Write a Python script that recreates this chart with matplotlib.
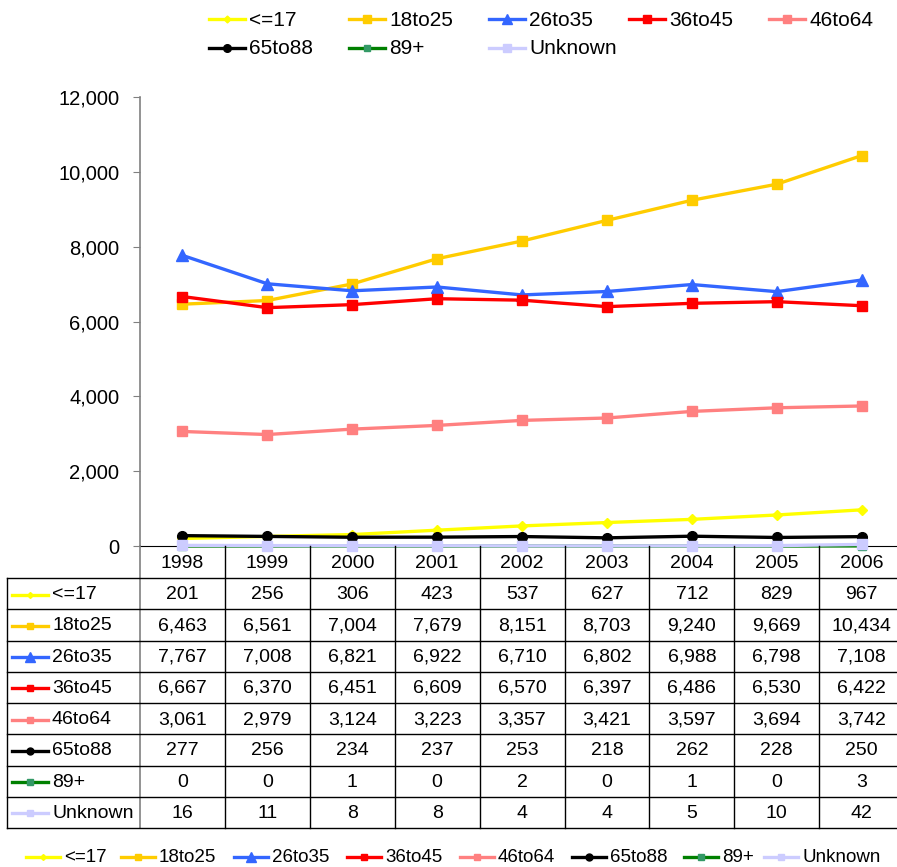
import matplotlib
matplotlib.use('Agg')
import matplotlib.pyplot as plt
from matplotlib.lines import Line2D
from matplotlib.transforms import blended_transform_factory

plt.rcParams['font.family'] = ['Liberation Sans', 'DejaVu Sans']

years = ['1998', '1999', '2000', '2001', '2002', '2003', '2004', '2005', '2006']
labels = ['<=17', '18to25', '26to35', '36to45', '46to64', '65to88', '89+', 'Unknown']
le17 = [201, 256, 306, 423, 537, 627, 712, 829, 967]
a18to25 = [6463, 6561, 7004, 7679, 8151, 8703, 9240, 9669, 10434]
a26to35 = [7767, 7008, 6821, 6922, 6710, 6802, 6988, 6798, 7108]
a36to45 = [6667, 6370, 6451, 6609, 6570, 6397, 6486, 6530, 6422]
a46to64 = [3061, 2979, 3124, 3223, 3357, 3421, 3597, 3694, 3742]
a65to88 = [277, 256, 234, 237, 253, 218, 262, 228, 250]
a89plus = [0, 0, 1, 0, 2, 0, 1, 0, 3]
unknown = [16, 11, 8, 8, 4, 4, 5, 10, 42]
series = [le17, a18to25, a26to35, a36to45, a46to64, a65to88, a89plus, unknown]

colors = ['#FFFF00', '#FFCC00', '#3366FF', '#FF0000', '#FF8080', '#000000', '#339966', '#CCCCFF']
line_colors = ['#FFFF00', '#FFCC00', '#3366FF', '#FF0000', '#FF8080', '#000000', '#008000', '#CCCCFF']
markers = ['D', 's', '^', 's', 's', 'o', 's', 's']
msizes = [5, 7, 9, 7, 7, 7, 6, 7]

W, H = 897, 867
fig = plt.figure(figsize=(W / 100, H / 100), dpi=100)

# pixel layout
x0, col_w, y_top, y_zero = 140, 84.9, 97, 546
ax = fig.add_axes([x0 / W, (H - y_zero) / H, 9 * col_w / W, (y_zero - y_top) / H])
over = fig.add_axes([0, 0, 1, 1], facecolor='none')
over.set_xlim(0, W)
over.set_ylim(H, 0)
over.axis('off')

xs = list(range(len(years)))
for vals, lc, mc, mk, ms in zip(series, line_colors, colors, markers, msizes):
    ax.plot(xs, vals, color=lc, lw=2.4, marker=mk, ms=ms, mfc=mc, mec=mc, clip_on=False, zorder=3)

ax.set_xlim(-0.5, 8.5)
ax.set_ylim(0, 12000)
ax.set_yticks(range(0, 12001, 2000))
ax.set_yticklabels([f'{v:,}' for v in range(0, 12001, 2000)], fontsize=14.5)
ax.set_xticks([])
ax.tick_params(axis='y', direction='out', length=5, color='#808080', pad=10)
for s in ['top', 'right']:
    ax.spines[s].set_visible(False)
ax.spines['left'].set_color('#808080')
ax.spines['bottom'].set_color('#000000')
ax.spines['left'].set_linewidth(1.2)

# data table under the chart
tr = blended_transform_factory(ax.transData, over.transData)
row_top, row_h = 578, 31.25
y_bot = row_top + 8 * row_h
over.plot([x0, x0], [y_zero, y_bot], color='#808080', lw=1.2)
for i in range(1, 10):
    over.plot([i - 0.5, i - 0.5], [y_zero, y_bot], color='black', lw=1, transform=tr)
for k in range(9):
    y = row_top + k * row_h
    over.plot([7, W], [y, y], color='black', lw=1)
over.plot([7, 7], [row_top, y_bot], color='black', lw=1)

for i, yr in enumerate(years):
    over.text(i, (y_zero + row_top) / 2 + 1, yr, transform=tr, ha='center', va='center', fontsize=14)

for r, (lab, vals) in enumerate(zip(labels, series)):
    yc = row_top + (r + 0.5) * row_h + 1
    over.add_line(Line2D([12, 48], [yc, yc], color=line_colors[r], lw=2.4))
    over.add_line(Line2D([30], [yc], marker=markers[r], ms=msizes[r] - 2,
                         mfc=colors[r], mec=colors[r], lw=0))
    over.text(52, yc, lab, ha='left', va='center', fontsize=14)
    for i, v in enumerate(vals):
        over.text(i, yc, f'{v:,}', transform=tr, ha='center', va='center', fontsize=14)


def legend_item(x, y, idx, length, fs, shrink):
    over.add_line(Line2D([x, x + length], [y, y], color=line_colors[idx], lw=2.4))
    over.add_line(Line2D([x + length / 2], [y], marker=markers[idx], ms=msizes[idx] - shrink,
                         mfc=colors[idx], mec=colors[idx], lw=0))
    over.text(x + length + 4, y + 1, labels[idx], ha='left', va='center', fontsize=fs)


# top legend (two rows)
top_x = [209, 349, 489, 629, 769, 209, 349, 489]
top_y = [19, 19, 19, 19, 19, 48, 48, 48]
for idx in range(8):
    legend_item(top_x[idx], top_y[idx], idx, 36, 15, 1.5)

# bottom legend (one row)
bot_x = [26, 121, 234, 347, 460, 572, 684, 764]
for idx in range(8):
    legend_item(bot_x[idx], 857, idx, 34, 13.5, 2)

fig.savefig('out.png', dpi=100)
